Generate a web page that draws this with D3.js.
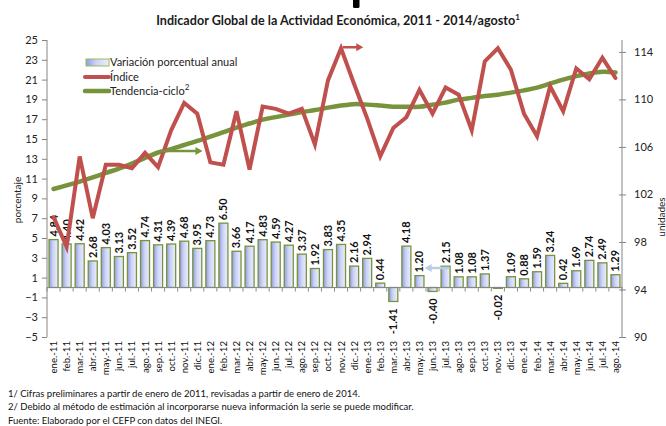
<!DOCTYPE html>
<html><head><meta charset="utf-8">
<script src="https://cdn.jsdelivr.net/npm/d3@7"></script>
<style>
body{margin:0;background:#fff;}
text{font-family:Lato, "Noto Sans", sans-serif;}
</style></head>
<body><svg id="c" width="666" height="426"></svg>
<script>
const categories = ["ene.-11","feb.-11","mar.-11","abr.-11","may.-11","jun.-11","jul.-11","ago.-11","sep.-11","oct.-11","nov.-11","dic.-11",
"ene.-12","feb.-12","mar.-12","abr.-12","may.-12","jun.-12","jul.-12","ago.-12","sep.-12","oct.-12","nov.-12","dic.-12",
"ene.-13","feb.-13","mar.-13","abr.-13","may.-13","jun.-13","jul.-13","ago.-13","sep.-13","oct.-13","nov.-13","dic.-13",
"ene.-14","feb.-14","mar.-14","abr.-14","may.-14","jun.-14","jul.-14","ago.-14"];
const variacion = [4.84,4.40,4.42,2.68,4.03,3.13,3.52,4.74,4.31,4.39,4.68,3.95,
4.73,6.50,3.66,4.17,4.83,4.59,4.27,3.37,1.92,3.83,4.35,2.16,
2.94,0.44,-1.41,4.18,1.20,-0.40,2.15,1.08,1.08,1.37,-0.02,1.09,
0.88,1.59,3.24,0.42,1.69,2.74,2.49,1.29];
const indice = [100.1,97.6,105.2,100.0,104.5,104.5,104.2,105.5,104.3,107.4,109.7,108.8,
104.7,104.5,109.0,104.1,109.4,109.2,108.8,109.2,106.2,111.6,114.3,111.3,
108.4,105.2,107.6,108.5,110.8,108.8,111.0,110.4,107.4,113.2,114.3,112.5,
108.8,106.9,111.1,109.0,112.6,111.7,113.5,111.8];
const tendencia = [102.46,102.76,103.08,103.43,103.81,104.18,104.6,105.07,105.53,105.82,106.16,106.5,
106.87,107.25,107.63,107.97,108.3,108.51,108.72,108.93,109.1,109.31,109.48,109.6,
109.56,109.48,109.39,109.38,109.38,109.56,109.73,109.98,110.13,110.28,110.4,110.57,
110.76,110.99,111.33,111.66,111.96,112.18,112.32,112.27];
const leftTicks = [-5,-3,-1,1,3,5,7,9,11,13,15,17,19,21,23,25];
const rightTicks = [90,94,98,102,106,110,114];
const title = "Indicador Global de la Actividad Económica, 2011 - 2014/agosto";
const notes = ["1/ Cifras preliminares a partir de enero de 2011, revisadas a partir de enero de 2014.",
"2/ Debido al método de estimación al incorporarse nueva información la serie se puede modificar.",
"Fuente: Elaborado por el CEFP con datos del INEGI."];
// annotation arrows: [fromIndex, toIndex, value, axis]
const arrows = [
 {from:8.15, to:11.4, v:105.66, axis:"R", color:"#77933c"},
 {from:22.15, to:23.7, v:114.39, axis:"R", color:"#c0504d"},
 {from:30.3, to:28.4, v:1.97, axis:"L", color:"#b9cde5"}
];

const svg = d3.select("#c");
const L=47, R=622, T=40, B=337;
const x = d3.scaleBand().domain(categories).range([L,R]).paddingInner(0.31).paddingOuter(0.155);
const yL = d3.scaleLinear().domain([-5,25]).range([B,T]);
const yR = d3.scaleLinear().domain([90,115]).range([B,T]);
const step = x.step();
const cx = i => x(categories[0]) + x.bandwidth()/2 + i*step;

const defs = svg.append("defs");
const g = defs.append("linearGradient").attr("id","barg").attr("x1","0").attr("x2","1").attr("y1","0").attr("y2","0");
g.append("stop").attr("offset","0").attr("stop-color","#8f9ce0");
g.append("stop").attr("offset","0.45").attr("stop-color","#cdd3f7");
g.append("stop").attr("offset","1").attr("stop-color","#eceffd");

// cut-off heading glyph remnant at top edge
svg.append("path").attr("d","M353,0H359.5V6.5Q359.5,8 358,8H354.5Q353,8 353,6.5Z").attr("fill","#000");

svg.append("text").attr("x",338).attr("y",25).attr("text-anchor","middle").attr("font-size",12.6).attr("font-weight","bold").attr("fill","#1a1a1a")
  .text(title).append("tspan").attr("dy",-5).attr("font-size",8).text("1");

// bars
svg.append("g").selectAll("rect").data(variacion).join("rect")
 .attr("x",(d,i)=>x(categories[i]))
 .attr("width",x.bandwidth())
 .attr("y",d=>yL(Math.max(0,d)))
 .attr("height",d=>Math.max(0.8,Math.abs(yL(d)-yL(0))))
 .attr("fill","url(#barg)").attr("stroke","#77933c").attr("stroke-width",1.3);

// x axis line + ticks
const axCol="#868686";
svg.append("line").attr("x1",L).attr("x2",R).attr("y1",yL(0)).attr("y2",yL(0)).attr("stroke",axCol).attr("stroke-width",1);
svg.append("g").selectAll("line").data(d3.range(categories.length+1)).join("line")
 .attr("x1",i=>L+i*step).attr("x2",i=>L+i*step).attr("y1",yL(0)).attr("y2",yL(0)+4).attr("stroke",axCol);

// left axis
const la = svg.append("g").attr("transform",`translate(${L},0)`).call(d3.axisLeft(yL).tickValues(leftTicks).tickSize(5).tickPadding(4).tickFormat(d3.format("d")));
la.select(".domain").attr("stroke",axCol).attr("d",`M0,${B}V${T}`);
la.selectAll(".tick line").attr("stroke",axCol);
la.selectAll("text").attr("font-size",11).attr("fill","#222").attr("font-family","Lato");

// right axis
const ra = svg.append("g").attr("transform",`translate(${R},0)`).call(d3.axisRight(yR).tickValues(rightTicks).tickSize(4).tickPadding(8));
ra.select(".domain").attr("stroke",axCol).attr("d",`M0,${B}V${T}`);
ra.selectAll(".tick line").attr("stroke",axCol).attr("x1",-3);
ra.selectAll("text").attr("font-size",11).attr("fill","#222").attr("font-family","Lato");

// category labels
svg.append("g").selectAll("text").data(categories).join("text")
 .attr("transform",(d,i)=>`translate(${cx(i)+3.5},${B+4}) rotate(-90)`)
 .attr("text-anchor","end").attr("font-size",9.6).attr("fill","#111").text(d=>d);

// bar labels
svg.append("g").selectAll("text").data(variacion).join("text")
 .attr("transform",(d,i)=> d>=0 ? `translate(${cx(i)+4},${yL(d)-3}) rotate(-90)` : `translate(${cx(i)+4},${yL(d)+7}) rotate(-90)`)
 .attr("text-anchor",d=>d>=0?"start":"end")
 .attr("font-size",11).attr("font-weight","bold").attr("fill","#111")
 .text(d=>d.toFixed(2));

// lines
svg.append("path").datum(tendencia).attr("fill","none").attr("stroke","#77933c").attr("stroke-width",4.5)
 .attr("stroke-linecap","round")
 .attr("d",d3.line().x((d,i)=>cx(i)).y(d=>yR(d)).curve(d3.curveCatmullRom.alpha(0.5)));
svg.append("path").datum(indice).attr("fill","none").attr("stroke","#c0504d").attr("stroke-width",4)
 .attr("stroke-linejoin","miter").attr("stroke-linecap","round")
 .attr("d",d3.line().x((d,i)=>cx(i)).y(d=>yR(d)));

// arrows
arrows.forEach(a=>{
  const ys = a.axis==="R"? yR(a.v) : yL(a.v);
  const x1=cx(a.from), x2=cx(a.to), dir=Math.sign(x2-x1);
  svg.append("line").attr("x1",x1).attr("x2",x2-dir*5).attr("y1",ys).attr("y2",ys).attr("stroke",a.color).attr("stroke-width",2.5);
  svg.append("path").attr("d",`M${x2},${ys}L${x2-dir*7},${ys-4}L${x2-dir*7},${ys+4}Z`).attr("fill",a.color);
});

// legend
const lg = svg.append("g");
lg.append("rect").attr("x",86).attr("y",59).attr("width",23).attr("height",7).attr("fill","url(#barg)").attr("stroke","#9bbb59").attr("stroke-width",1);
lg.append("line").attr("x1",85).attr("x2",109).attr("y1",77).attr("y2",77).attr("stroke","#c0504d").attr("stroke-width",4).attr("stroke-linecap","round");
lg.append("line").attr("x1",85).attr("x2",109).attr("y1",91).attr("y2",91).attr("stroke","#77933c").attr("stroke-width",4.5).attr("stroke-linecap","round");
const ltxt = [["Variación porcentual anual",66],["Índice",81],["Tendencia-ciclo",95]];
ltxt.forEach((t,i)=>{
  const tx = lg.append("text").attr("x",110).attr("y",t[1]).attr("font-size",11).attr("fill","#222").text(t[0]);
  if(i===2) tx.append("tspan").attr("dy",-5).attr("font-size",8).text("2");
});

// axis titles
svg.append("text").attr("transform","translate(21,200) rotate(-90)").attr("text-anchor","middle").attr("font-size",10).attr("fill","#222").text("porcentaje");
svg.append("text").attr("transform","translate(665,217) rotate(-90)").attr("text-anchor","middle").attr("font-size",10).attr("fill","#222").text("unidades");

// notes
notes.forEach((n,i)=>svg.append("text").attr("x",8).attr("y",397+i*13.3).attr("font-size",9.5).attr("fill","#111").text(n));
</script></body></html>
